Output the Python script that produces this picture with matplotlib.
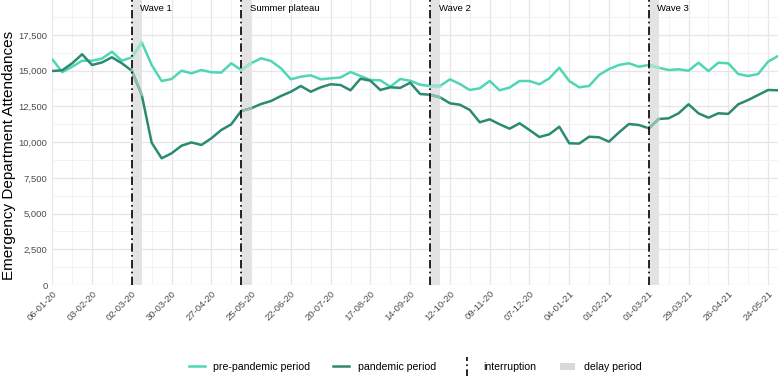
import matplotlib
matplotlib.use("Agg")
import matplotlib.pyplot as plt
import matplotlib.dates as mdates
from matplotlib.lines import Line2D
from matplotlib.patches import Patch
from matplotlib.legend_handler import HandlerBase
import pandas as pd

plt.rcParams['font.family'] = ['Liberation Sans', 'DejaVu Sans']

# weekly series, Monday 06-01-20 .. 31-05-21
weeks = pd.date_range("2020-01-06", periods=74, freq="7D")

pre_pandemic = [15800, 14900, 15280, 15700, 15700, 15850, 16330, 15700, 15940, 16990,
                15400, 14280, 14420, 15000, 14820, 15050, 14890, 14870, 15520, 15050,
                15520, 15870, 15680, 15170, 14400, 14580, 14680, 14400, 14470, 14530,
                14910, 14630, 14350, 14330, 13880, 14420, 14300, 14020, 13930, 13930,
                14400, 14070, 13650, 13770, 14280, 13630, 13820, 14280, 14280, 14050,
                14470, 15210, 14280, 13840, 13930, 14700, 15120, 15400, 15520, 15280,
                15400, 15210, 15050, 15100, 15000, 15560, 14980, 15560, 15520, 14770,
                14630, 14770, 15630, 16030]

pandemic = [14980, 15030, 15520, 16150, 15400, 15580, 15940, 15520, 15000, 13300,
            9960, 8870, 9220, 9750, 9980, 9800, 10270, 10850, 11250, 12180,
            12370, 12670, 12880, 13230, 13530, 13930, 13530, 13840, 14050, 14000,
            13630, 14440, 14300, 13650, 13840, 13800, 14160, 13370, 13320, 13140,
            12720, 12620, 12250, 11390, 11600, 11250, 10940, 11320, 10850, 10360,
            10550, 11080, 9920, 9900, 10380, 10340, 10030, 10680, 11270, 11200,
            10970, 11620, 11670, 12020, 12650, 12020, 11710, 12020, 11980, 12650,
            12950, 13300, 13650, 13630]

interruptions = ["2020-03-02", "2020-05-18", "2020-09-28", "2021-03-01"]
period_names = ["Wave 1", "Summer plateau", "Wave 2", "Wave 3"]

light = "#4fd6b3"
dark = "#2a8a72"


class VerticalLineHandler(HandlerBase):
    def create_artists(self, legend, orig_handle, xdescent, ydescent,
                       width, height, fontsize, trans):
        x = width / 2 - xdescent
        ln = Line2D([x, x], [-ydescent - 4, height + 4], color="black",
                    linestyle=(0, (4, 2, 1, 2)), linewidth=1.2, transform=trans)
        return [ln]


fig = plt.figure(figsize=(7.78, 3.76), dpi=100)
ax = fig.add_axes([0.0672, 0.242, 0.9328, 0.758])

# delay shading
for d in interruptions:
    start = pd.Timestamp(d)
    ax.axvspan(start, start + pd.Timedelta(days=7), color="#e3e3e3", lw=0, zorder=1)

# lines; segment inside the delay week drawn faded
delay_idx = [list(weeks).index(pd.Timestamp(d)) for d in interruptions]
for series, col in [(pre_pandemic, light), (pandemic, dark)]:
    ax.plot(weeks, series, color=col, lw=1.8, zorder=3, solid_capstyle="round")
    for i in delay_idx:
        ax.plot(weeks[i:i + 2], series[i:i + 2], color="#8fbdb2" if col == dark else "#9fe3d0",
                lw=1.8, zorder=4)

for d, name in zip(interruptions, period_names):
    ax.axvline(pd.Timestamp(d), color="black", linestyle=(0, (5, 2, 1, 2)), lw=1.2, zorder=5)
    ax.text(pd.Timestamp(d) + pd.Timedelta(days=6), 19650, name, fontsize=6.8,
            ha="left", va="top", color="black")

ax.set_xlim(weeks[0], weeks[-1])
ax.set_ylim(0, 19950)
ax.set_yticks(range(0, 17501, 2500))
ax.set_yticks(range(1250, 19950, 2500), minor=True)
ax.yaxis.set_major_formatter(matplotlib.ticker.FuncFormatter(lambda v, p: f"{int(v):,}"))

ax.set_xticks(weeks[::4])
ax.set_xticks(weeks[2::4], minor=True)
ax.xaxis.set_major_formatter(mdates.DateFormatter("%d-%m-%y"))
plt.setp(ax.get_xticklabels(), rotation=45, ha="right", rotation_mode="anchor")

ax.tick_params(which="both", length=0, labelsize=6.8, labelcolor="#4d4d4d")
ax.tick_params(axis="x", pad=3)
ax.grid(which="major", color="#e6e6e6", lw=0.9)
ax.grid(which="minor", color="#f0f0f0", lw=0.6)
ax.set_axisbelow(True)
for s in ax.spines.values():
    s.set_visible(False)

ax.set_ylabel("Emergency Department Attendances", fontsize=11)
ax.yaxis.set_label_coords(-0.0505, 0.453)

handles = [Line2D([], [], color=light, lw=1.8),
           Line2D([], [], color=dark, lw=1.8),
           Line2D([], [], color="black"),
           Patch(facecolor="#d9d9d9", edgecolor="none")]
labels = ["pre-pandemic period", "pandemic period", "interruption", "delay period"]
leg = ax.legend(handles, labels, loc="center", bbox_to_anchor=(0.5, -0.288), ncol=4,
                frameon=False, fontsize=7.6, handlelength=1.5, handletextpad=0.8,
                columnspacing=2.2,
                handler_map={handles[2]: VerticalLineHandler()})

fig.savefig("out.png", dpi=100)
